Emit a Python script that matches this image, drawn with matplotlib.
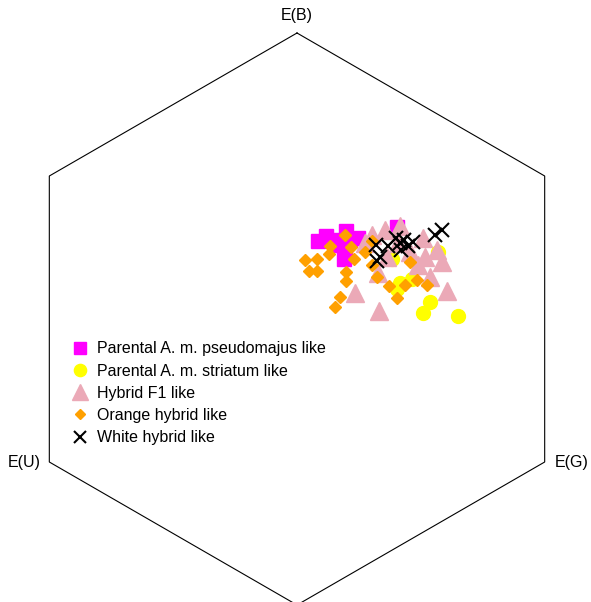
import numpy as np
import matplotlib
matplotlib.use("Agg")
import matplotlib.pyplot as plt
from matplotlib.lines import Line2D

plt.rcParams["font.family"] = ["Liberation Sans", "DejaVu Sans"]

# ── Colour hexagon coordinates per group (x, y) ────────────────────────────────
pseudomajus_x = [0.073, 0.101, 0.136, 0.171, 0.185, 0.213, 0.168, 0.164, 0.350, 0.126]
pseudomajus_y = [0.273, 0.290, 0.259, 0.308, 0.276, 0.283, 0.234, 0.210, 0.322, 0.276]

striatum_x = [0.332, 0.493, 0.350, 0.402, 0.465, 0.441, 0.563, 0.360]
striatum_y = [0.210, 0.234, 0.105, 0.140, 0.059, 0.021, 0.010, 0.126]

f1_x = [0.308, 0.360, 0.441, 0.490, 0.507, 0.448, 0.238, 0.315, 0.395,
        0.283, 0.465, 0.524, 0.203, 0.287, 0.262, 0.353, 0.423]
f1_y = [0.311, 0.325, 0.283, 0.241, 0.199, 0.217, 0.266, 0.217, 0.234,
        0.161, 0.147, 0.098, 0.091, 0.028, 0.294, 0.266, 0.189]

orange_x = [0.028, 0.070, 0.112, 0.042, 0.070, 0.168, 0.189, 0.199, 0.171, 0.171,
            0.150, 0.133, 0.238, 0.262, 0.280, 0.322, 0.350, 0.378, 0.420, 0.455,
            0.395, 0.262, 0.115]
orange_y = [0.206, 0.210, 0.227, 0.168, 0.168, 0.294, 0.252, 0.210, 0.164, 0.133,
            0.077, 0.042, 0.234, 0.189, 0.147, 0.115, 0.073, 0.119, 0.136, 0.119,
            0.199, 0.273, 0.255]

white_x = [0.507, 0.483, 0.280, 0.290, 0.276, 0.318, 0.360, 0.374, 0.388, 0.406, 0.364, 0.346]
white_y = [0.311, 0.294, 0.203, 0.217, 0.259, 0.255, 0.266, 0.276, 0.255, 0.269, 0.241, 0.283]

# ── Figure: unit hexagon, 286 px per unit ──────────────────────────────────────
W, H, DPI = 591, 602, 100
SCALE = 286.0
CX, CY = 297.0, 319.0
FS = 11.5

fig = plt.figure(figsize=(W / DPI, H / DPI), dpi=DPI)
ax = fig.add_axes([0, 0, 1, 1])
ax.set_xlim(-CX / SCALE, (W - CX) / SCALE)
ax.set_ylim((CY - H) / SCALE, CY / SCALE)
ax.axis("off")

ang = np.deg2rad(np.arange(90, 90 + 361, 60))
ax.plot(np.cos(ang), np.sin(ang), color="black", lw=0.8, solid_joinstyle="miter")

c30 = np.cos(np.deg2rad(30))
ax.text(0, 1.06, "E(B)", ha="center", va="center", fontsize=FS)
ax.text(-c30 - 0.03, -0.5, "E(U)", ha="right", va="center", fontsize=FS)
ax.text(c30 + 0.035, -0.5, "E(G)", ha="left", va="center", fontsize=FS)

groups = [
    (pseudomajus_x, pseudomajus_y, dict(marker="s", color="#FF00FF", ms=10.5), "Parental A. m. pseudomajus like"),
    (striatum_x, striatum_y, dict(marker="o", color="#FFFF00", ms=10), "Parental A. m. striatum like"),
    (f1_x, f1_y, dict(marker="^", color="#EBA9B7", ms=12.5), "Hybrid F1 like"),
    (orange_x, orange_y, dict(marker="D", color="#FFA000", ms=6), "Orange hybrid like"),
    (white_x, white_y, dict(marker="x", color="black", ms=10, mew=1.5), "White hybrid like"),
]

handles = []
for xs, ys, style, label in groups:
    ax.plot(xs, ys, linestyle="none", **style)
    leg_style = dict(style)
    leg_style["ms"] = style["ms"] * 0.88
    handles.append(Line2D([], [], linestyle="none", **leg_style, label=label))

ax.legend(handles=handles, loc="upper left", bbox_to_anchor=(59 / W, 1 - 327 / H),
          frameon=False, fontsize=FS, handlelength=0.87, handletextpad=0.62,
          labelspacing=0.45, borderpad=0.4)

fig.savefig("out.png", dpi=DPI, facecolor="white")
